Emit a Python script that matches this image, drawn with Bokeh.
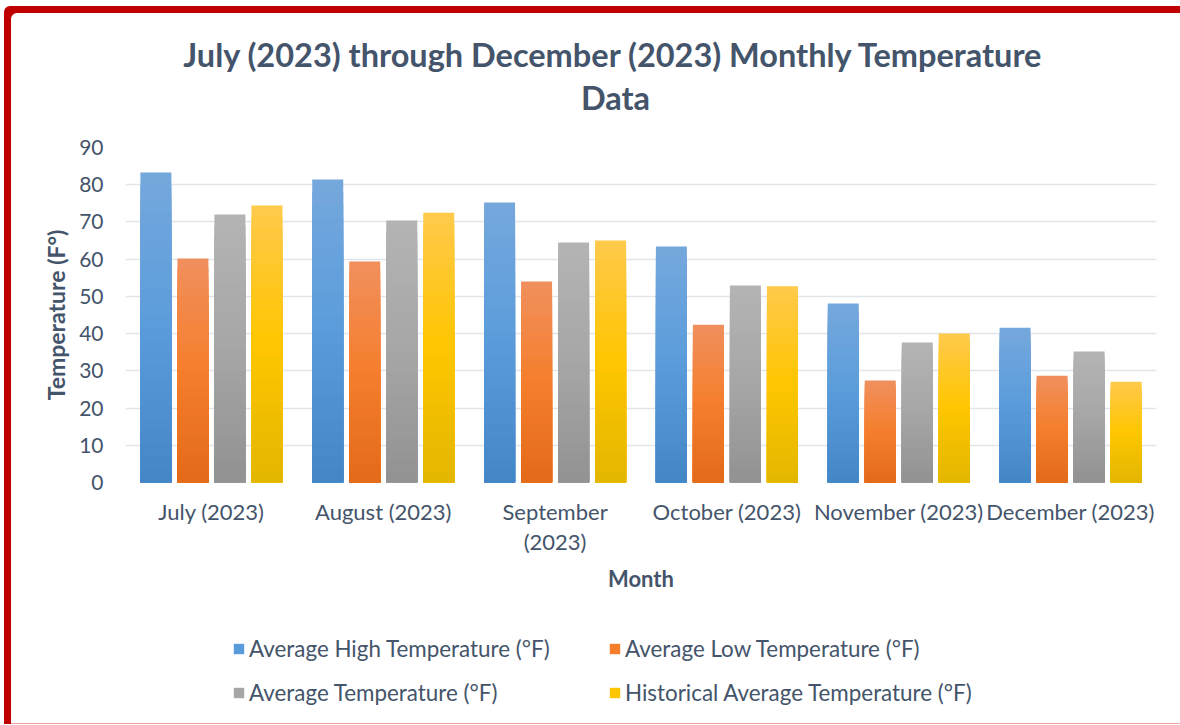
from bokeh.plotting import figure
from bokeh.layouts import column
from bokeh.models import FactorRange, Legend, LegendItem, ColumnDataSource, Range1d, Label
from bokeh.transform import dodge
from bokeh.embed import file_html
from bokeh.resources import INLINE

# ---- data ----
months = ["July (2023)", "August (2023)", "September\n(2023)", "October (2023)",
          "November (2023)", "December (2023)"]
series_names = ["Average High Temperature (°F)", "Average Low Temperature (°F)",
                "Average Temperature (°F)", "Historical Average Temperature (°F)"]
avg_high = [83.3, 81.4, 75.2, 63.4, 48.1, 41.6]
avg_low = [60.2, 59.4, 54.0, 42.4, 27.4, 28.7]
avg_temp = [72.0, 70.4, 64.5, 52.9, 37.6, 35.2]
hist_avg = [74.4, 72.5, 65.0, 52.7, 40.0, 27.1]
y_ticks = [0, 10, 20, 30, 40, 50, 60, 70, 80, 90]
title_lines = ["July (2023) through December (2023) Monthly Temperature", "Data"]

series_values = [avg_high, avg_low, avg_temp, hist_avg]

# ---- styles ----
FONT = "Lato"
TEXT = "#44546A"
GRID = "#E1E5EA"
RED = "#C00000"
GRADS = [
    ("#75A8DC", "#5A9CDB", "#4386C6"),
    ("#F0905E", "#F57E2C", "#E26A18"),
    ("#B4B4B4", "#A6A6A6", "#929292"),
    ("#FFC94C", "#FFC600", "#E2B600"),
]
N = 24
W = 1176
MB_L, MB_R = 121, 24


def hex2rgb(h):
    h = h.lstrip("#")
    return tuple(int(h[i:i + 2], 16) for i in (0, 2, 4))


def grad(stops, t):
    a, b, c = (hex2rgb(s) for s in stops)
    if t <= 0.5:
        u, p0, q0 = t / 0.5, a, b
    else:
        u, p0, q0 = (t - 0.5) / 0.5, b, c
    r = tuple(round(p0[i] + (q0[i] - p0[i]) * u) for i in range(3))
    return "#%02x%02x%02x" % r


def strip(height, x_range, y_range):
    f = figure(width=W, height=height, x_range=x_range, y_range=y_range,
               x_axis_type=None, y_axis_type=None, title=None,
               output_backend="svg", toolbar_location=None,
               min_border_left=MB_L, min_border_right=MB_R,
               min_border_top=0, min_border_bottom=0)
    f.outline_line_color = None
    f.background_fill_color = None
    f.border_fill_color = None
    f.grid.grid_line_color = None
    return f


# ---------------- title strip (page y 6..126) ----------------
pt = strip(120, Range1d(125, 1156), Range1d(126, 6))
pt.margin = (6, 0, 0, 4)
pt.styles = {
    "box-shadow": "inset 7px 7px 0 0 %s" % RED,
    "border-top-left-radius": "6px",
    "background-color": "white",
}
for txt, x, y in zip(title_lines, [613.5, 615], [54, 96.5]):
    pt.add_layout(Label(x=x, y=y, text=txt, text_align="center", text_baseline="middle",
                        text_font=FONT, text_font_size="32.5px", text_font_style="bold",
                        text_color=TEXT))

# ---------------- main chart (page y 126..610) ----------------
p = figure(
    x_range=FactorRange(*months),
    y_range=(0, 90),
    width=W, height=484, title=None,
    output_backend="svg", toolbar_location=None,
    min_border_left=MB_L, min_border_right=MB_R,
    min_border_top=21, min_border_bottom=128,
)
p.margin = (0, 0, 0, 4)
p.styles = {"box-shadow": "inset 7px 0 0 0 %s" % RED, "background-color": "white"}
p.outline_line_color = None
p.background_fill_color = "white"
p.border_fill_color = None

BAR_W = 0.1805
STEP = 0.2154

for i, (name, vals) in enumerate(zip(series_names, series_values)):
    off = (i - 1.5) * STEP
    for k in range(N):
        frac = 1 - k / N
        src = ColumnDataSource(dict(month=months, top=[v * frac for v in vals]))
        col = grad(GRADS[i], (k + 0.5) / N)
        p.vbar(x=dodge("month", off, range=p.x_range), top="top", width=BAR_W,
               source=src, fill_color=col, line_color=None)

p.xgrid.grid_line_color = None
p.ygrid.grid_line_color = GRID
p.ygrid.grid_line_width = 1.6
p.yaxis.ticker = y_ticks

for ax in (p.xaxis[0], p.yaxis[0]):
    ax.axis_line_color = None
    ax.major_tick_line_color = None
    ax.minor_tick_line_color = None
    ax.major_tick_out = 0
    ax.major_tick_in = 0
    ax.major_label_text_font = FONT
    ax.major_label_text_color = TEXT
    ax.axis_label_text_font = FONT
    ax.axis_label_text_font_style = "bold"
    ax.axis_label_text_color = TEXT

p.yaxis.major_label_text_font_size = "21px"
p.yaxis.axis_label = "Temperature (F°)"
p.yaxis.axis_label_text_font_size = "23px"
p.yaxis.major_label_standoff = 22
p.yaxis.axis_label_standoff = 6

p.xaxis.major_label_text_font_size = "22px"
p.xaxis.axis_label = "Month"
p.xaxis.axis_label_text_font_size = "22px"
p.xaxis.major_label_standoff = 15
p.xaxis.major_label_text_line_height = 1.12
p.xaxis.axis_label_standoff = 7

# ---------------- legend strip (page y 610..724) ----------------
pl = strip(114, FactorRange(*months), Range1d(500, 501))
pl.margin = (0, 0, 0, 4)
pl.styles = {
    "box-shadow": "inset 7px 0 0 0 %s, inset 0 -1px 0 0 #F2A3A3" % RED,
    "background-color": "white",
}
legend_items = []
for i, (name, vals) in enumerate(zip(series_names, series_values)):
    # proxy bars lie outside this strip's visible y range; only their legend swatch shows
    r = pl.vbar(x=months, top=vals, width=0.2, fill_color=GRADS[i][1], line_color=None)
    legend_items.append(LegendItem(label=name, renderers=[r]))

legend = Legend(items=legend_items, orientation="horizontal", ncols=2,
                location=(107, 14.5), glyph_width=13, glyph_height=13,
                label_standoff=4, label_width=350, label_height=35, spacing=9,
                padding=0, margin=0, border_line_color=None, background_fill_alpha=0,
                label_text_font=FONT, label_text_font_size="22.4px", label_text_color=TEXT)
pl.add_layout(legend, "center")

layout = column(pt, p, pl, spacing=0)
open("out.html", "w").write(file_html(layout, INLINE))
